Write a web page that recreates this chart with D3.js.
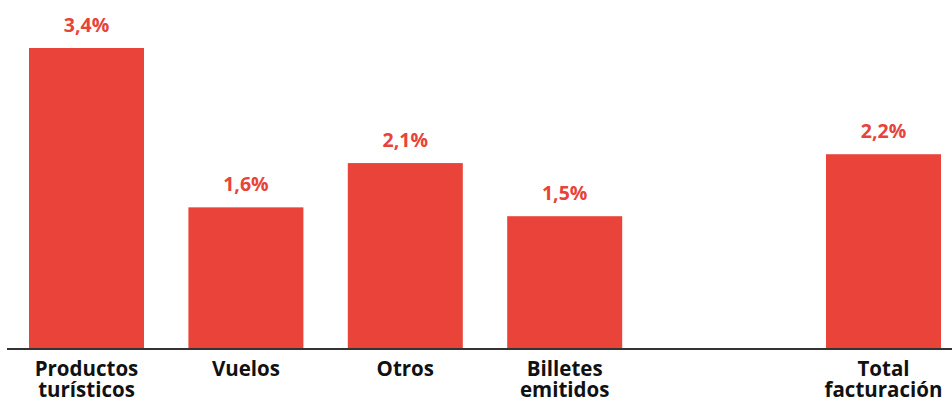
<!DOCTYPE html>
<meta charset="utf-8">
<head>
<style>
  body { margin: 0; background: #fff; }
  .cat { font-family: "Open Sans", sans-serif; font-weight: 700; font-size: 20.5px; fill: #111; }
  .val { font-family: "Open Sans", sans-serif; font-weight: 700; font-size: 19.5px; fill: #e8433a; }
</style>
</head>
<body>
<svg width="952" height="403"></svg>

<script src="https://d3js.org/d3.v7.min.js"></script>
<script>
// categories (the empty slot is the gap before the total)
var categories = ["Productos turísticos", "Vuelos", "Otros", "Billetes emitidos", "", "Total facturación"];
var labelLines = [["Productos", "turísticos"], ["Vuelos"], ["Otros"], ["Billetes", "emitidos"], [], ["Total", "facturación"]];
var values = [3.4, 1.6, 2.1, 1.5, null, 2.2];
var valueLabels = ["3,4%", "1,6%", "2,1%", "1,5%", "", "2,2%"];

var data = categories.map(function(c, i) {
  return { cat: c, value: values[i], label: valueLabels[i], lines: labelLines[i] };
});

var svg = d3.select("svg"),
    baseline = 349;

var x = d3.scaleBand()
    .domain(categories)
    .range([29, 941])
    .paddingInner(0.2785)
    .paddingOuter(0);

var y = d3.scaleLinear()
    .domain([0, 3.4])
    .range([baseline, 48]);

var bars = data.filter(function(d) { return d.value != null; });

svg.append("g")
    .selectAll("rect")
    .data(bars)
  .enter().append("rect")
    .attr("x", function(d) { return x(d.cat); })
    .attr("y", function(d) { return y(d.value); })
    .attr("width", x.bandwidth())
    .attr("height", function(d) { return y(0) - y(d.value); })
    .attr("fill", "#e9433a");

// baseline
svg.append("line")
    .attr("x1", 7).attr("x2", 952)
    .attr("y1", y(0)).attr("y2", y(0))
    .attr("stroke", "#333")
    .attr("stroke-width", 2);

svg.append("g")
    .selectAll("text")
    .data(bars)
  .enter().append("text")
    .attr("class", "val")
    .attr("text-anchor", "middle")
    .attr("x", function(d) { return x(d.cat) + x.bandwidth() / 2; })
    .attr("y", function(d) { return y(d.value) - 16; })
    .text(function(d) { return d.label; });

var cats = svg.append("g")
    .selectAll("text")
    .data(data)
  .enter().append("text")
    .attr("class", "cat")
    .attr("text-anchor", "middle")
    .attr("x", function(d) { return x(d.cat) + x.bandwidth() / 2; })
    .attr("y", 376);

cats.selectAll("tspan")
    .data(function(d) { return d.lines; })
  .enter().append("tspan")
    .attr("x", function() { return d3.select(this.parentNode).attr("x"); })
    .attr("dy", function(d, i) { return i ? 21 : 0; })
    .text(function(d) { return d; });
</script>
</body>
